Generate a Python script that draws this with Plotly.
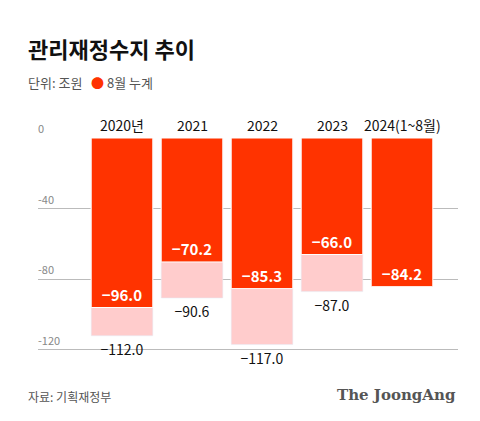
import plotly.graph_objects as go

cats = ["2020년", "2021", "2022", "2023", "2024(1~8월)"]
aug = [-96.0, -70.2, -85.3, -66.0, -84.2]
full = [-112.0, -90.6, -117.0, -87.0, None]
yticks = [0, -40, -80, -120]

RED = "#ff3300"
PINK = "#ffcccc"
F = "Noto Sans CJK KR"

fig = go.Figure()
fig.add_bar(x=cats, y=full, marker_color=PINK, width=0.88,
            text=[f"−{abs(v):.1f}" if v is not None else "" for v in full],
            textposition="outside", textfont=dict(color="#111", size=14, family=F),
            cliponaxis=False, hoverinfo="skip")
fig.add_bar(x=cats, y=aug, marker_color=RED, width=0.88,
            marker_line=dict(color="white", width=1),
            text=[f"<b>−{abs(v):.1f}</b>" for v in aug],
            textposition="inside", insidetextanchor="end",
            textfont=dict(color="white", size=15, family=F),
            hoverinfo="skip")

fig.update_layout(
    barmode="overlay", width=480, height=421, showlegend=False,
    plot_bgcolor="white", paper_bgcolor="white",
    margin=dict(l=30, r=30, t=130, b=65),
    font=dict(family=F, color="#333"),
    xaxis=dict(type="category", range=[-1.2, 4.8], showticklabels=False, showline=False,
               showgrid=False, fixedrange=True),
    yaxis=dict(range=[-128, 0], tickvals=yticks, ticktext=[str(v) for v in yticks],
               showticklabels=False, gridcolor="#bbb", gridwidth=1, zeroline=False),
)
for i, c in enumerate(cats):
    fig.add_annotation(x=i, y=0, xref="x", yref="y", text=c, showarrow=False, yanchor="bottom",
                       yshift=1, font=dict(size=14, color="#111", family=F))
for v in yticks:
    fig.add_annotation(x=0, xref="paper", xshift=-2, y=v, yref="y", text=str(v),
                       showarrow=False, xanchor="left", yanchor="bottom",
                       font=dict(size=11, color="#888", family=F))
fig.add_annotation(x=0, y=1, xref="paper", yref="paper", xanchor="left", yanchor="bottom",
                   xshift=-12, yshift=72, text="<b>관리재정수지 추이</b>", showarrow=False,
                   font=dict(size=22, color="#111", family=F))
fig.add_annotation(x=0, y=1, xref="paper", yref="paper", xanchor="left", yanchor="bottom",
                   xshift=-12, yshift=44,
                   text="단위: 조원   <span style='color:#ff3300'>●</span> 8월 누계",
                   showarrow=False, font=dict(size=13, color="#555", family=F))
fig.add_annotation(x=0, y=0, xref="paper", yref="paper", xanchor="left", yanchor="top",
                   xshift=-12, yshift=-22, text="자료: 기획재정부", showarrow=False,
                   font=dict(size=12, color="#555", family=F))
fig.add_annotation(x=1, y=0, xref="paper", yref="paper", xanchor="right", yanchor="top",
                   yshift=-20, text="<b>The JoongAng</b>", showarrow=False,
                   font=dict(size=15, color="#555", family="DejaVu Serif"))
fig.write_html("out.html")
